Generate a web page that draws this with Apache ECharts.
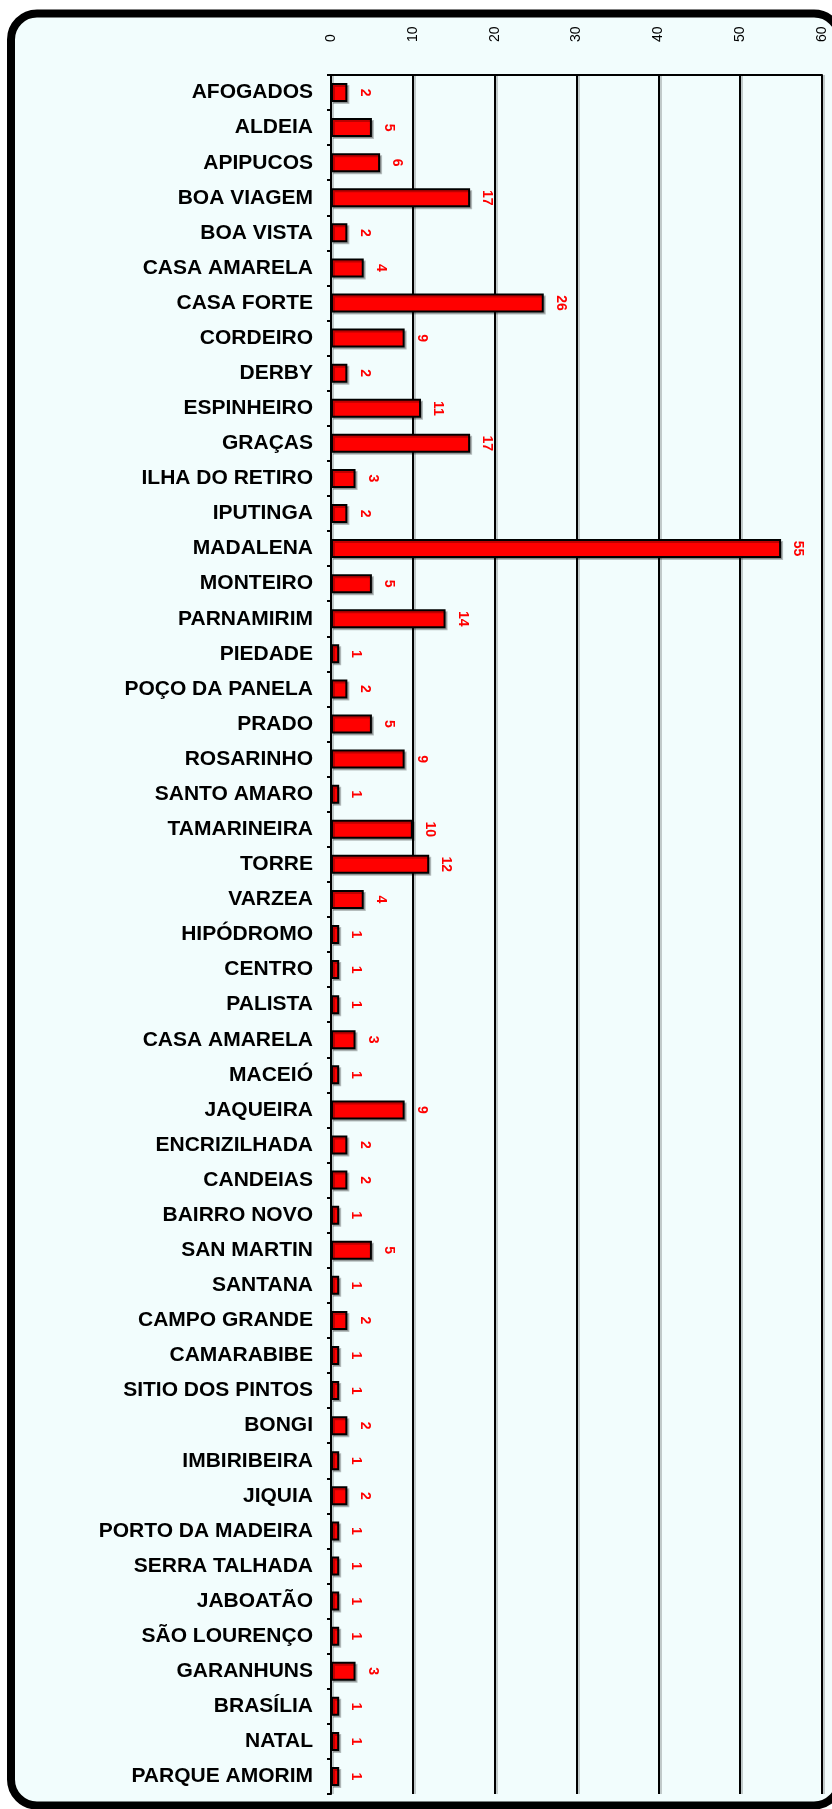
<!DOCTYPE html>
<html>
<head>
<meta charset="utf-8">
<script src="https://cdn.jsdelivr.net/npm/echarts@6/dist/echarts.min.js"></script>
<style>
  html, body { margin: 0; padding: 0; background: #ffffff; }
  #chart { width: 832px; height: 1809px; }
</style>
</head>
<body>
<div id="chart"></div>
<script>
// bairros
const categories = [
  'AFOGADOS', 'ALDEIA', 'APIPUCOS', 'BOA VIAGEM', 'BOA VISTA', 'CASA AMARELA',
  'CASA FORTE', 'CORDEIRO', 'DERBY', 'ESPINHEIRO', 'GRAÇAS', 'ILHA DO RETIRO',
  'IPUTINGA', 'MADALENA', 'MONTEIRO', 'PARNAMIRIM', 'PIEDADE', 'POÇO DA PANELA',
  'PRADO', 'ROSARINHO', 'SANTO AMARO', 'TAMARINEIRA', 'TORRE', 'VARZEA',
  'HIPÓDROMO', 'CENTRO', 'PALISTA', 'CASA AMARELA', 'MACEIÓ', 'JAQUEIRA',
  'ENCRIZILHADA', 'CANDEIAS', 'BAIRRO NOVO', 'SAN MARTIN', 'SANTANA', 'CAMPO GRANDE',
  'CAMARABIBE', 'SITIO DOS PINTOS', 'BONGI', 'IMBIRIBEIRA', 'JIQUIA', 'PORTO DA MADEIRA',
  'SERRA TALHADA', 'JABOATÃO', 'SÃO LOURENÇO', 'GARANHUNS', 'BRASÍLIA', 'NATAL',
  'PARQUE AMORIM'
]
// quantidade por bairro
const values = [
  2, 5, 6, 17, 2, 4,
  26, 9, 2, 11, 17, 3,
  2, 55, 5, 14, 1, 2,
  5, 9, 1, 10, 12, 4,
  1, 1, 1, 3, 1, 9,
  2, 2, 1, 5, 1, 2,
  1, 1, 2, 1, 2, 1,
  1, 1, 1, 3, 1, 1,
  1
]
// eixo x
const xMin = 0
const xMax = 60
const xStep = 10

const font = "'Liberation Sans', Arial, sans-serif"
const myChart = echarts.init(document.getElementById('chart'))

const option = {
  animation: false,
  backgroundColor: '#ffffff',
  graphic: [
    {
      type: 'rect',
      z: -10,
      silent: true,
      shape: { x: 11, y: 13.5, width: 829, height: 1792, r: 26 },
      style: { fill: '#f2fdfd', stroke: '#000', lineWidth: 8 }
    }
  ],
  grid: {
    left: 331,
    right: 10,
    top: 75,
    bottom: 15,
    containLabel: false
  },
  xAxis: {
    type: 'value',
    position: 'top',
    min: xMin,
    max: xMax,
    interval: xStep,
    axisLine: { show: true, lineStyle: { color: '#000', width: 2 } },
    axisTick: { show: false },
    axisLabel: {
      rotate: -90,
      margin: 33,
      fontSize: 14,
      color: '#000',
      fontFamily: font
    },
    splitLine: {
      show: true,
      lineStyle: {
        color: '#000',
        width: 2,
        shadowColor: 'rgba(0,0,0,0.2)',
        shadowOffsetX: 2
      }
    }
  },
  yAxis: {
    type: 'category',
    inverse: true,
    data: categories,
    axisLine: { show: true, lineStyle: { color: '#000', width: 2 } },
    axisTick: { show: true, length: 4, lineStyle: { color: '#000', width: 2 } },
    axisLabel: {
      fontSize: 21,
      fontWeight: 'bold',
      color: '#000',
      margin: 18,
      fontFamily: font
    },
    splitLine: { show: false }
  },
  series: [
    {
      type: 'bar',
      data: values,
      barWidth: 19,
      itemStyle: {
        color: '#ff0000',
        borderColor: '#000',
        borderWidth: 2,
        shadowColor: 'rgba(0,0,0,0.25)',
        shadowOffsetX: 2,
        shadowOffsetY: 2
      },
      label: {
        show: true,
        position: 'right',
        distance: 17,
        rotate: -90,
        align: 'center',
        verticalAlign: 'middle',
        color: '#ff0000',
        fontWeight: 'bold',
        fontSize: 14,
        fontFamily: font
      }
    }
  ]
}
myChart.setOption(option)
</script>
</body>
</html>
